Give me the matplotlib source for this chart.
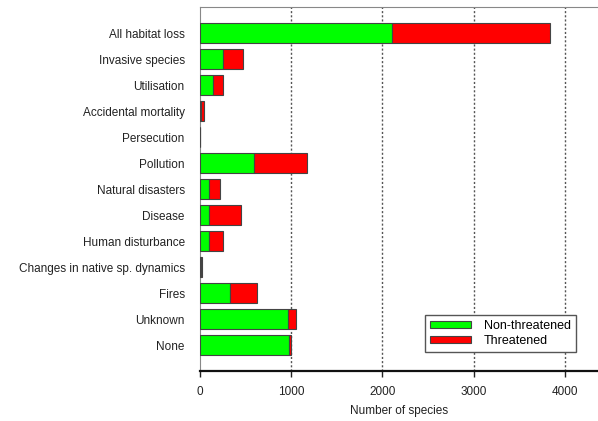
import matplotlib.pyplot as plt
import numpy as np

plt.rcParams['font.family'] = ['Liberation Sans', 'DejaVu Sans']

threats = ['All habitat loss', 'Invasive species', 'Utilisation', 'Accidental mortality',
           'Persecution', 'Pollution', 'Natural disasters', 'Disease', 'Human disturbance',
           'Changes in native sp. dynamics', 'Fires', 'Unknown', 'None']
non_threatened = [2110, 250, 140, 15, 3, 596, 100, 100, 100, 10, 330, 968, 980]
threatened = [1728, 225, 116, 29, 2, 574, 123, 350, 156, 10, 295, 85, 22]

fig = plt.figure(figsize=(5.98, 4.21), dpi=100)
ax = fig.add_axes([200/598, 50/421, 1 - 200/598, 364/421])

y = np.arange(len(threats))
h = 0.77
ax.barh(y, non_threatened, height=h, color='#00ff00', edgecolor='#444444', linewidth=0.8,
        label='Non-threatened', zorder=3)
ax.barh(y, threatened, left=non_threatened, height=h, color='#ff0000', edgecolor='#444444',
        linewidth=0.8, label='Threatened', zorder=3)

ax.set_ylim(len(threats), -1)
ax.set_xlim(0, 4364)
ax.set_yticks(y)
ax.set_yticklabels(threats, fontsize=8.5, color='#222222')
ax.tick_params(axis='y', length=0, pad=11)
ax.set_xticks([0, 1000, 2000, 3000, 4000])
ax.tick_params(axis='x', labelsize=8.5, length=4, width=1, pad=7, colors='#222222')
ax.set_xlabel('Number of species', fontsize=8.5, color='#222222', labelpad=5)

for x in [1000, 2000, 3000, 4000]:
    ax.axvline(x, color='#555555', linestyle=(0, (1.5, 1.5)), linewidth=1, zorder=1)

ax.spines['right'].set_visible(False)
ax.spines['top'].set_color('#888888')
ax.spines['left'].set_color('#888888')
ax.spines['bottom'].set_color('#111111')
ax.spines['bottom'].set_linewidth(1.6)

leg = ax.legend(loc='upper left', bbox_to_anchor=(0.565, 0.154), borderaxespad=0,
                fontsize=9, fancybox=False, framealpha=1, edgecolor='#555555',
                handlelength=3.3, handleheight=0.5, borderpad=0.4, labelspacing=0.25,
                handletextpad=1.0)
leg.get_frame().set_linewidth(1)

fig.savefig('out.png', dpi=100)
